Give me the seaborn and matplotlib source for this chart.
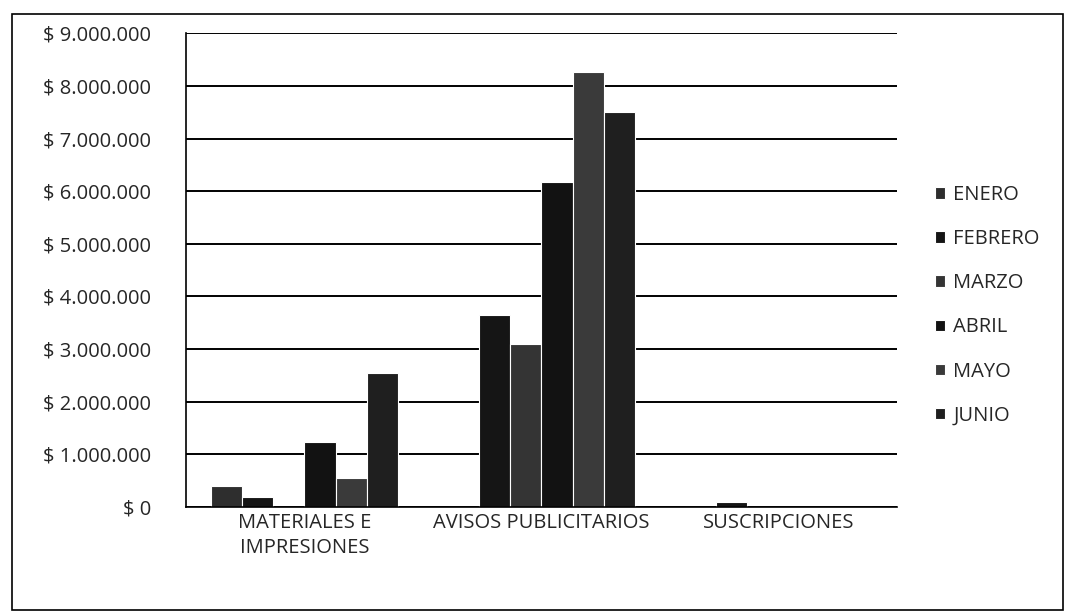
import pandas as pd
import matplotlib
matplotlib.use("Agg")
import matplotlib.pyplot as plt
import seaborn as sns
from matplotlib.ticker import FuncFormatter, MultipleLocator
from matplotlib.patches import Rectangle

# datos del grafico (valores en pesos)
categorias = ["MATERIALES E\nIMPRESIONES", "AVISOS PUBLICITARIOS", "SUSCRIPCIONES"]
meses = ["ENERO", "FEBRERO", "MARZO", "ABRIL", "MAYO", "JUNIO"]
enero = [400000, 0, 0]
febrero = [190000, 3650000, 100000]
marzo = [0, 3100000, 0]
abril = [1240000, 6180000, 0]
mayo = [550000, 8260000, 0]
junio = [2540000, 7500000, 0]
colores = ["#2e2e2e", "#151515", "#343434", "#121212", "#3a3a3a", "#1f1f1f"]

series = [enero, febrero, marzo, abril, mayo, junio]
records = []
for mes, valores in zip(meses, series):
    for cat, v in zip(categorias, valores):
        records.append({"categoria": cat, "mes": mes, "valor": v})
df = pd.DataFrame(records)

sns.set_style("white")
plt.rcParams["font.family"] = ["Open Sans", "DejaVu Sans"]

fig = plt.figure(figsize=(10.65, 6.12), dpi=100)
ax = fig.add_axes([0.1746, 0.1716, 0.6674, 0.774])

sns.barplot(
    data=df, x="categoria", y="valor", hue="mes", order=categorias,
    hue_order=meses, palette=colores, width=0.79, ax=ax,
    edgecolor="white", linewidth=0.8, errorbar=None, saturation=1,
)

ax.set_ylim(0, 9000000)
ax.set_xlim(-0.5, 2.5)
ax.yaxis.set_major_locator(MultipleLocator(1000000))
ax.yaxis.set_major_formatter(
    FuncFormatter(lambda v, p: "$ " + f"{int(v):,}".replace(",", "."))
)
ax.set_axisbelow(True)
ax.grid(axis="y", color="black", linewidth=1.4)
ax.set_xlabel("")
ax.set_ylabel("")

for s in ["top", "right"]:
    ax.spines[s].set_visible(False)
for s in ["left", "bottom"]:
    ax.spines[s].set_color("black")
    ax.spines[s].set_linewidth(1.2)

ax.tick_params(axis="y", length=9, width=1.2, color="black", direction="out",
               labelsize=14.5, pad=16)
ax.tick_params(axis="x", which="major", length=0, labelsize=14.5, pad=4)
for lbl in ax.get_xticklabels():
    lbl.set_linespacing(1.35)
ax.set_xticks([-0.5, 0.5, 1.5, 2.5], minor=True)
ax.tick_params(axis="x", which="minor", length=7, width=1.2, color="black",
               direction="out")

# leyenda a la derecha
handles, labels = ax.get_legend_handles_labels()
ax.legend(
    handles, labels, loc="center left", bbox_to_anchor=(0.878, 0.501),
    bbox_transform=fig.transFigure, frameon=False, fontsize=14.5,
    handlelength=0.5, handleheight=0.5, handletextpad=0.4, labelspacing=1.2,
    borderpad=0, borderaxespad=0,
)

# marco exterior del grafico
fig.patches.append(Rectangle((12 / 1065, 2 / 612), 1 - 14 / 1065, 1 - 16 / 612,
                             transform=fig.transFigure, fill=False,
                             edgecolor="black", linewidth=1.2))

fig.savefig("out.png", dpi=100, facecolor="white")
